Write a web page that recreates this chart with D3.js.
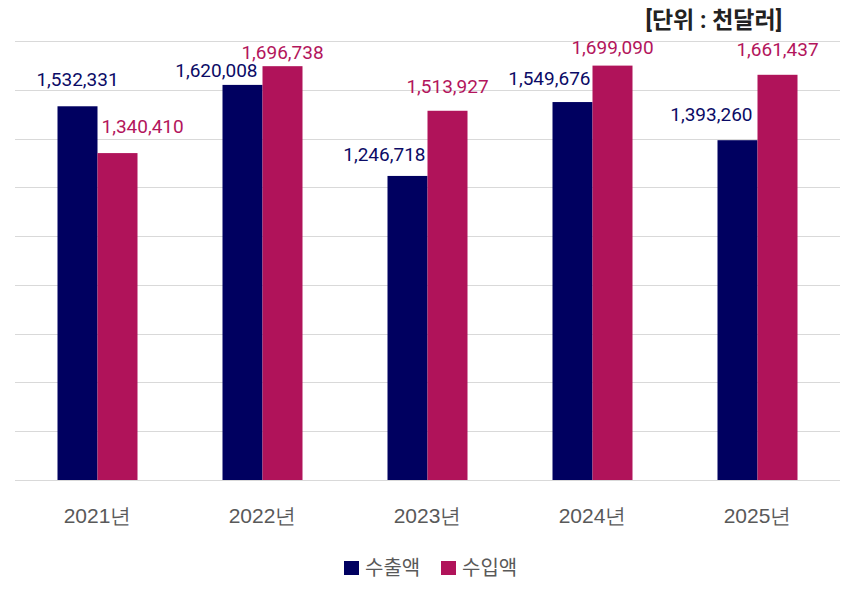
<!DOCTYPE html>
<html>
<head>
<meta charset="utf-8">
<script src="https://cdn.jsdelivr.net/npm/d3@7"></script>
<style>
  body { margin: 0; background: #fff; }
  svg { display: block; font-family: Roboto, "Noto Sans CJK KR", sans-serif; }
  .grid line { stroke: #d9d9d9; stroke-width: 1; }
  .axis text { fill: #595959; font-size: 21px; }
  .legend text { fill: #595959; font-size: 20px; }
  .unit { fill: #222; font-size: 23px; font-weight: bold; }
  .lbl { font-size: 19px; }
</style>
</head>
<body>
<script>
//W and H
var w = 854;
var h = 595;

//data
var years = ["2021년", "2022년", "2023년", "2024년", "2025년"];
var exportValues = [1532331, 1620008, 1246718, 1549676, 1393260];
var importValues = [1340410, 1696738, 1513927, 1699090, 1661437];
var seriesNames = ["수출액", "수입액"];
var yTicks = [0, 200000, 400000, 600000, 800000, 1000000, 1200000, 1400000, 1600000, 1800000];

var colors = ["#000060", "#b0135a"];
var labelColors = ["#0b0b66", "#b3155c"];

//label placement per year (anchor, shift, lift above bar top)
var exportLabelPos = [
    { anchor: "middle", dx: 0, dy: 20 },
    { anchor: "end", dx: -5, dy: 8 },
    { anchor: "end", dx: -2, dy: 15 },
    { anchor: "end", dx: -2, dy: 17 },
    { anchor: "end", dx: -5, dy: 19 }
];
var importLabelPos = [
    { anchor: "start", dx: 4, dy: 20 },
    { anchor: "middle", dx: 0, dy: 7 },
    { anchor: "middle", dx: 0, dy: 18 },
    { anchor: "middle", dx: 0, dy: 12 },
    { anchor: "middle", dx: 0, dy: 19 }
];

var fmt = d3.format(",");

//Scales
var x = d3.scaleBand()
    .domain(years)
    .range([15, 840])
    .paddingInner(85 / 165)
    .paddingOuter(85 / 330);

var x1 = d3.scaleBand()
    .domain([0, 1])
    .range([0, x.bandwidth()]);

var y = d3.scaleLinear()
    .domain([0, 1800000])
    .range([480, 41]);

//SVG
var svg = d3.select("body")
    .append("svg")
    .attr("width", w)
    .attr("height", h);

//gridlines
svg.append("g")
    .attr("class", "grid")
    .selectAll("line")
    .data(yTicks)
    .enter()
    .append("line")
    .attr("x1", 15)
    .attr("x2", 840)
    .attr("y1", function(d) { return Math.round(y(d)) + 0.5; })
    .attr("y2", function(d) { return Math.round(y(d)) + 0.5; });

//bars
var series = [exportValues, importValues];
var positions = [exportLabelPos, importLabelPos];

series.forEach(function(vals, s) {
    var g = svg.append("g");

    g.selectAll("rect")
        .data(vals)
        .enter()
        .append("rect")
        .attr("x", function(d, i) { return x(years[i]) + x1(s); })
        .attr("y", function(d) { return y(d); })
        .attr("width", x1.bandwidth())
        .attr("height", function(d) { return y(0) - y(d); })
        .attr("fill", colors[s]);

    g.selectAll("text")
        .data(vals)
        .enter()
        .append("text")
        .attr("class", "lbl")
        .attr("fill", labelColors[s])
        .attr("text-anchor", function(d, i) { return positions[s][i].anchor; })
        .attr("x", function(d, i) {
            var p = positions[s][i];
            var left = x(years[i]) + x1(s);
            if (p.anchor === "middle") return left + x1.bandwidth() / 2 + p.dx;
            if (p.anchor === "end") return left + x1.bandwidth() + p.dx;
            return left + p.dx;
        })
        .attr("y", function(d, i) { return y(d) - positions[s][i].dy; })
        .text(function(d) { return fmt(d); });
});

//x axis
var xAxis = d3.axisBottom(x).tickSize(0).tickPadding(28);

svg.append("g")
    .attr("class", "axis")
    .attr("transform", "translate(0,480)")
    .call(xAxis)
    .call(function(g) { g.select(".domain").remove(); })
    .selectAll("text")
    .attr("font-family", null)
    .attr("font-size", null);

//unit label
svg.append("text")
    .attr("class", "unit")
    .attr("x", 782)
    .attr("y", 28)
    .attr("text-anchor", "end")
    .text("[단위 : 천달러]");

//legend
var legend = svg.append("g").attr("class", "legend");
var legendX = [344, 441];

seriesNames.forEach(function(name, i) {
    legend.append("rect")
        .attr("x", legendX[i])
        .attr("y", 561)
        .attr("width", 15)
        .attr("height", 14)
        .attr("fill", colors[i]);
    legend.append("text")
        .attr("x", legendX[i] + 21)
        .attr("y", 575)
        .text(name);
});
</script>
</body>
</html>
